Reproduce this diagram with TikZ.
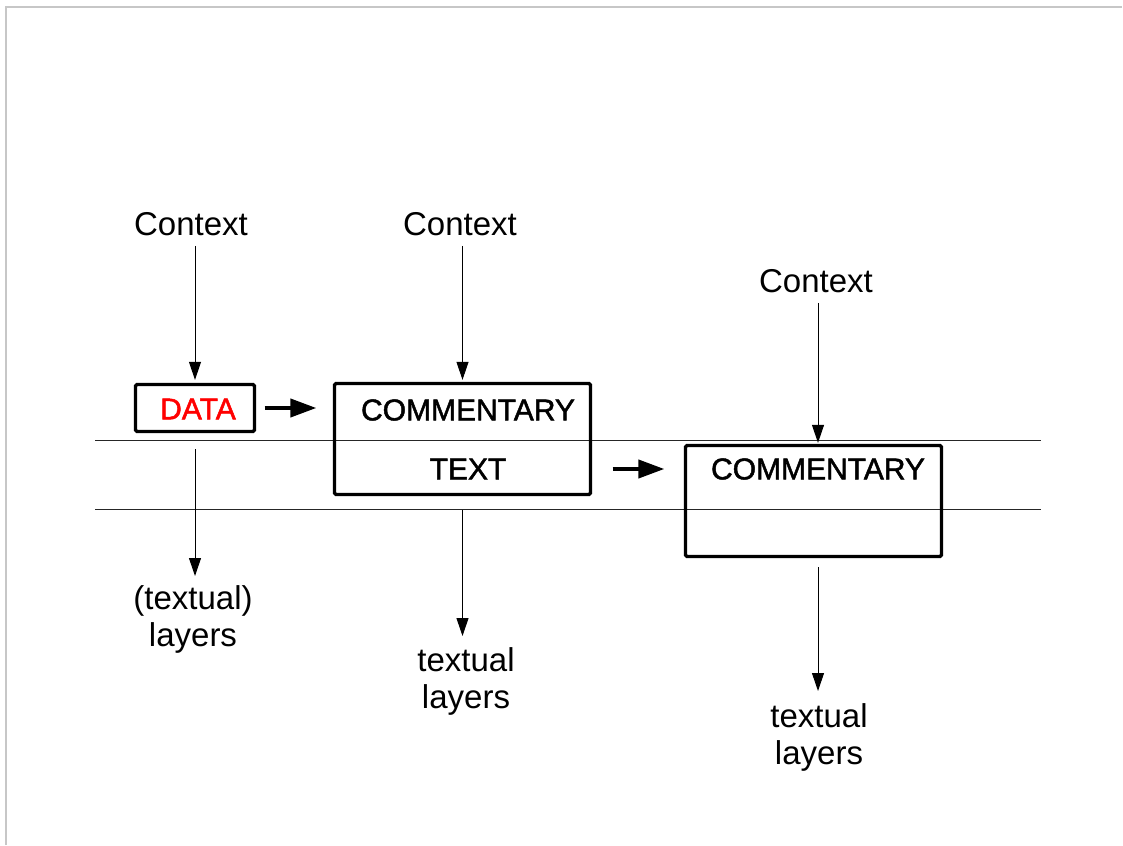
\documentclass[tikz,border=0pt]{standalone}
\usepackage{fontspec}
\setmainfont{Liberation Sans}
\newfontfamily\boxfont[FakeBold=1.6]{Liberation Sans}
\usetikzlibrary{arrows.meta}
\begin{document}
\begin{tikzpicture}[x=1pt,y=-1pt,
  lbl/.style={font=\fontsize{33}{37}\selectfont, align=center, inner sep=0pt},
  boxtxt/.style={font=\boxfont\fontsize{30}{34}\selectfont, inner sep=0pt},
  frame/.style={draw, line width=3.3pt, rounded corners=1.5pt, inner sep=0pt,
    minimum width=256pt, minimum height=111pt},
  thinarr/.style={line width=1pt, -{Triangle[length=18pt,width=12pt]}},
  thickarr/.style={line width=4pt, -{Triangle[length=26pt,width=18pt]}},
  band/.style={line width=1pt, draw=black!85},
]
\useasboundingbox (0,0) rectangle (1123,845);
% page frame
\draw[black!22, line width=1.5pt] (6,845) -- (6,7) -- (1122,7);

% the two horizontal bands
\draw[band] (95,440) -- (1041,440);
\draw[band] (95,509) -- (1041,509);

% boxes
\node[frame, minimum width=119pt, minimum height=47pt] (data) at (195,408) {};
\node[boxtxt, text=red] (datat) at (198,409) {DATA};
\node[frame] (box2) at (462.5,439) {};
\node[boxtxt] (cm2) at (468,410) {COMMENTARY};
\node[boxtxt] (txt) at (468,469) {TEXT};
\node[frame] (box3) at (813.5,501) {};
\node[boxtxt] (cm3) at (818,469) {COMMENTARY};

% context labels
\node[lbl] (ctx1) at (191,224) {Context};
\node[lbl] (ctx2) at (460,224) {Context};
\node[lbl] (ctx3) at (816,281) {Context};

% layer labels
\node[lbl, anchor=north] (lay1) at (193,585) {(textual)\\layers};
\node[lbl, anchor=north] (lay2) at (466,647) {textual\\layers};
\node[lbl, anchor=north] (lay3) at (819,703) {textual\\layers};

% context arrows
\draw[thinarr, shorten <=10pt, shorten >=3pt] (data.north |- ctx1.south) -- (data.north);
\draw[thinarr, shorten <=10pt, shorten >=2pt] (box2.north |- ctx2.south) -- (box2.north);
\draw[thinarr, shorten <=10pt, shorten >=1pt] (cm3 |- ctx3.south) -- (cm3 |- box3.north);

% layer arrows
\draw[thinarr, shorten <=16pt, shorten >=9pt] (data.south) -- (data.south |- lay1.north);
\draw[thinarr, shorten <=14pt, shorten >=11pt] (box2.south) -- (box2.south |- lay2.north);
\draw[thinarr, shorten <=9pt, shorten >=12pt] (cm3 |- box3.south) -- (cm3 |- lay3.north);

% flow arrows
\draw[thickarr, shorten <=8.5pt, shorten >=16.5pt] (data.east) -- (data.east -| box2.west);
\draw[thickarr, shorten <=20.5pt, shorten >=19.5pt] (txt -| box2.east) -- (txt -| box3.west);
\end{tikzpicture}
\end{document}
